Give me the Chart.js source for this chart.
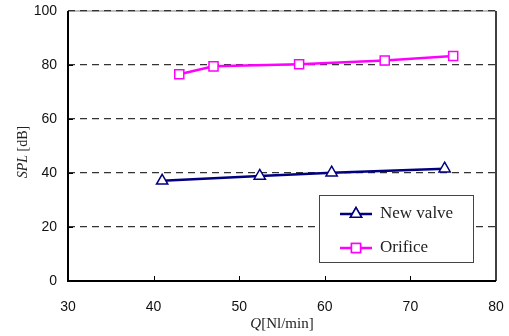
<!DOCTYPE html>
<html>
<head>
<meta charset="utf-8">
<script src="https://cdn.jsdelivr.net/npm/chart.js@4/dist/chart.umd.min.js"></script>
<style>
  html, body { margin: 0; padding: 0; background: #fff; }
  #wrap { width: 509px; height: 336px; }
</style>
</head>
<body>
<div id="wrap"><canvas id="myChart" width="509" height="336"></canvas></div>
<script>
// data
const newValveQ = [41, 52.4, 60.8, 74];
const newValveSPL = [37.1, 38.9, 40.1, 41.6];
const orificeQ = [43, 47, 57, 67, 75];
const orificeSPL = [76.6, 79.5, 80.3, 81.7, 83.3];
const xTicks = [30, 40, 50, 60, 70, 80];
const yTicks = [0, 20, 40, 60, 80, 100];
const seriesNames = ['New valve', 'Orifice'];

const toPoints = (xs, ys) => xs.map((x, i) => ({x: x, y: ys[i]}));

// frame, inner tick marks, axis titles and the boxed legend
const decor = {
  id: 'decor',
  beforeDraw(chart) {
    const {ctx, chartArea: a} = chart;
    ctx.save();
    ctx.strokeStyle = '#aaa';
    ctx.lineWidth = 1.5;
    ctx.beginPath();
    ctx.moveTo(a.left, a.top);
    ctx.lineTo(a.right, a.top);
    ctx.stroke();
    ctx.restore();
  },
  afterDraw(chart) {
    const {ctx, chartArea: a, scales} = chart;
    ctx.save();
    // frame
    ctx.strokeStyle = '#000';
    ctx.lineWidth = 2;
    ctx.beginPath();
    ctx.moveTo(a.left, a.top);
    ctx.lineTo(a.left, a.bottom);
    ctx.lineTo(a.right, a.bottom);
    ctx.stroke();
    ctx.lineWidth = 1.5;
    ctx.beginPath();
    ctx.moveTo(a.right, a.top);
    ctx.lineTo(a.right, a.bottom);
    ctx.stroke();
    // inner ticks
    ctx.lineWidth = 1;
    ctx.beginPath();
    xTicks.slice(1, -1).forEach(v => {
      const px = Math.round(scales.x.getPixelForValue(v)) + 0.5;
      ctx.moveTo(px, a.bottom);
      ctx.lineTo(px, a.bottom - 5);
    });
    yTicks.slice(1, -1).forEach(v => {
      const py = Math.round(scales.y.getPixelForValue(v)) + 0.5;
      ctx.moveTo(a.left, py);
      ctx.lineTo(a.left + 5, py);
    });
    ctx.stroke();

    // x title: Q[Nl/min]
    ctx.fillStyle = '#222';
    ctx.textBaseline = 'middle';
    const xt1 = 'Q', xt2 = '[Nl/min]';
    ctx.font = 'italic 15px "Liberation Serif"';
    const w1 = ctx.measureText(xt1).width;
    ctx.font = '15px "Liberation Serif"';
    const w2 = ctx.measureText(xt2).width;
    let sx = (a.left + a.right) / 2 - (w1 + w2) / 2;
    ctx.textAlign = 'left';
    ctx.font = 'italic 15px "Liberation Serif"';
    ctx.fillText(xt1, sx, 324);
    ctx.font = '15px "Liberation Serif"';
    ctx.fillText(xt2, sx + w1, 324);

    // y title: SPL [dB], rotated
    const yt1 = 'SPL', yt2 = ' [dB]';
    ctx.font = 'italic 14px "Liberation Serif"';
    const v1 = ctx.measureText(yt1).width;
    ctx.font = '14px "Liberation Serif"';
    const v2 = ctx.measureText(yt2).width;
    ctx.translate(23, (a.top + a.bottom) / 2 + 6);
    ctx.rotate(-Math.PI / 2);
    sx = -(v1 + v2) / 2;
    ctx.font = 'italic 14px "Liberation Serif"';
    ctx.fillText(yt1, sx, 0);
    ctx.font = '14px "Liberation Serif"';
    ctx.fillText(yt2, sx + v1, 0);
    ctx.restore();

    // legend box
    ctx.save();
    const bx = 319.5, by = 195.5, bw = 154, bh = 67;
    ctx.fillStyle = '#fff';
    ctx.fillRect(bx, by, bw, bh);
    ctx.strokeStyle = '#444';
    ctx.lineWidth = 1;
    ctx.strokeRect(bx, by, bw, bh);
    const rows = [214, 248];
    chart.data.datasets.forEach((ds, i) => {
      const y = rows[i];
      ctx.strokeStyle = ds.borderColor;
      ctx.lineWidth = 2.5;
      ctx.beginPath();
      ctx.moveTo(340, y);
      ctx.lineTo(372, y);
      ctx.stroke();
      ctx.fillStyle = '#fff';
      ctx.lineWidth = 1.5;
      Chart.helpers.drawPoint(ctx, {
        pointStyle: ds.pointStyle, radius: ds.pointRadius, borderWidth: 1.5
      }, 356, y);
      ctx.fill();
      ctx.stroke();
      ctx.fillStyle = '#222';
      ctx.font = '17px "Liberation Serif"';
      ctx.textAlign = 'left';
      ctx.textBaseline = 'middle';
      ctx.fillText(ds.label, 380, y);
    });
    ctx.restore();
  }
};

const config = {
  type: 'scatter',
  data: {
    datasets: [{
      label: seriesNames[0],
      data: toPoints(newValveQ, newValveSPL),
      showLine: true,
      borderColor: '#000080',
      backgroundColor: '#fff',
      borderWidth: 2.5,
      pointStyle: 'triangle',
      pointRadius: 6.5,
      pointBorderWidth: 1.5,
      pointBackgroundColor: '#fff',
      pointBorderColor: '#000080'
    }, {
      label: seriesNames[1],
      data: toPoints(orificeQ, orificeSPL),
      showLine: true,
      borderColor: '#ff00ff',
      backgroundColor: '#fff',
      borderWidth: 2.5,
      pointStyle: 'rect',
      pointRadius: 6.4,
      pointBorderWidth: 1.5,
      pointBackgroundColor: '#fff',
      pointBorderColor: '#ff00ff'
    }]
  },
  options: {
    responsive: false,
    animation: false,
    events: [],
    layout: { padding: { top: 11, right: 13, left: 0, bottom: 0 } },
    plugins: {
      legend: false,
      tooltip: { enabled: false }
    },
    scales: {
      x: {
        type: 'linear',
        min: 30,
        max: 80,
        afterFit(scale) {
          scale.height = 55;
          scale.paddingLeft = 0;
          scale.paddingRight = 0;
        },
        afterBuildTicks(scale) { scale.ticks = xTicks.map(v => ({value: v})); },
        grid: { display: false, drawTicks: false },
        border: { display: false },
        ticks: {
          padding: 18,
          color: '#111',
          font: { family: '"Liberation Sans"', size: 14 },
          maxRotation: 0
        }
      },
      y: {
        type: 'linear',
        min: 0,
        max: 100,
        afterFit(scale) {
          scale.width = 68;
          scale.paddingTop = 0;
          scale.paddingBottom = 0;
        },
        afterBuildTicks(scale) { scale.ticks = yTicks.map(v => ({value: v})); },
        grid: {
          drawTicks: false,
          color: (c) => c.tick && c.tick.value === 0 ? 'rgba(0,0,0,0)' : '#333',
          lineWidth: 1.2
        },
        border: { display: false, dash: [7, 5] },
        ticks: {
          padding: 11,
          color: '#111',
          font: { family: '"Liberation Sans"', size: 14 }
        }
      }
    }
  },
  plugins: [decor]
};

const myChart = new Chart(
  document.getElementById('myChart'),
  config
);
</script>
</body>
</html>
